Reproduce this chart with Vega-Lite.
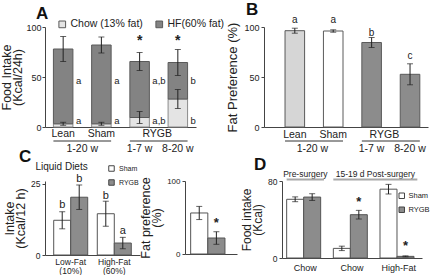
{
  "$schema": "https://vega.github.io/schema/vega-lite/v6.json",
  "background": "white",
  "padding": {"left": 0, "top": 0, "right": 0, "bottom": 0},
  "config": {
    "font": "Liberation Sans Narrow, Liberation Sans, Arial, sans-serif",
    "view": {"stroke": null},
    "axis": {"grid": false, "domainColor": "#444", "tickColor": "#444", "labelColor": "#222", "titleColor": "#222", "titleFontWeight": "normal", "tickSize": 3, "labelFont": "Liberation Sans Narrow, Liberation Sans, Arial, sans-serif", "titleFont": "Liberation Sans Narrow, Liberation Sans, Arial, sans-serif"},
    "axisY": {"labelPadding": 2, "titleLineHeight": 11},
    "title": {"anchor": "start", "frame": "group", "font": "Liberation Sans, Arial, sans-serif", "fontSize": 17, "fontWeight": "bold", "color": "#111", "offset": -4},
    "legend": {"labelFont": "Liberation Sans Narrow, Liberation Sans, Arial, sans-serif", "labelColor": "#222"},
    "text": {"color": "#222", "font": "Liberation Sans Narrow, Liberation Sans, Arial, sans-serif"}
  },
  "bounds": "flush",
  "spacing": 154,
  "resolve": {"scale": {"color": "independent"}, "legend": {"color": "independent"}},
  "vconcat": [
    {
      "hconcat": [
        {
          "width": 151, "height": 100,
          "title": {"text": "A", "dx": -9},
          "data": {"values": [
            {"grp": "Lean", "chow": 3.2, "chowErr": 1.5, "total": 78, "totalErr": 12.5, "letter": "a"},
            {"grp": "Sham", "chow": 3.2, "chowErr": 1.5, "total": 82, "totalErr": 8, "letter": "a"},
            {"grp": "RYGB1", "chow": 9.5, "chowErr": 6, "total": 65.5, "totalErr": 9, "letter": "a,b", "star": "*"},
            {"grp": "RYGB2", "chow": 28, "chowErr": 9.5, "total": 64.5, "totalErr": 13, "letter": "b", "star": "*"}
          ]},
          "encoding": {"x": {"field": "grp", "type": "nominal", "scale": {"domain": ["Lean", "Sham", "RYGB1", "RYGB2"], "paddingInner": 0.49, "paddingOuter": 0.22}, "axis": {"labels": false, "ticks": false, "title": null}}},
          "layer": [
            {"mark": {"type": "bar", "stroke": "#8a8a8a", "strokeWidth": 1},
             "encoding": {
               "y": {"field": "chow", "type": "quantitative", "scale": {"domain": [0, 100]}, "axis": {"values": [0, 25, 50, 75, 100], "title": ["Food Intake", "(Kcal/24h)"], "titleFontSize": 12.5, "labelFontSize": 9, "titlePadding": 1, "labelPadding": 1}},
               "color": {"datum": "Chow (13% fat)", "scale": {"domain": ["Chow (13% fat)", "HF(60% fat)"], "range": ["#e4e4e4", "#838383"]},
                 "legend": {"orient": "none", "legendX": 12, "legendY": -8, "direction": "horizontal", "title": null, "symbolType": "square", "symbolSize": 45, "symbolStrokeColor": "#555", "symbolStrokeWidth": 1, "labelFontSize": 10.5, "columnPadding": 10, "labelOffset": 3}}
             }},
            {"mark": {"type": "bar", "stroke": "#5a5a5a", "strokeWidth": 1},
             "encoding": {"y": {"field": "chow", "type": "quantitative", "title": ""}, "y2": {"field": "total"}, "color": {"datum": "HF(60% fat)"}}},
            {"mark": {"type": "errorbar", "ticks": true, "size": 6, "thickness": 1, "color": "#222"},
             "encoding": {"y": {"field": "chow", "type": "quantitative", "title": ""}, "yError": {"field": "chowErr"}}},
            {"mark": {"type": "errorbar", "ticks": true, "size": 6, "thickness": 1, "color": "#222"},
             "encoding": {"y": {"field": "total", "type": "quantitative", "title": ""}, "yError": {"field": "totalErr"}}},
            {"mark": {"type": "text", "align": "left", "dx": 3, "fontSize": 9.5, "baseline": "middle"},
             "encoding": {"x": {"field": "grp", "type": "nominal", "bandPosition": 1}, "y": {"datum": 46}, "text": {"field": "letter"}}},
            {"mark": {"type": "text", "align": "left", "dx": 3, "fontSize": 9.5, "baseline": "middle"},
             "encoding": {"x": {"field": "grp", "type": "nominal", "bandPosition": 1}, "y": {"datum": 6.5}, "text": {"field": "letter"}}},
            {"transform": [{"filter": "datum.star"}],
             "mark": {"type": "text", "fontSize": 14, "fontWeight": "bold", "baseline": "middle"},
             "encoding": {"y": {"datum": 86}, "text": {"field": "star"}}},
            {"data": {"values": [{"grp": "Lean", "t": "Lean"}, {"grp": "Sham", "t": "Sham"}]},
             "mark": {"type": "text", "fontSize": 10.5, "baseline": "middle"},
             "encoding": {"x": {"field": "grp", "type": "nominal"}, "y": {"datum": -7}, "text": {"field": "t"}}},
            {"data": {"values": [{"grp": "RYGB1", "t": "RYGB"}]},
             "mark": {"type": "text", "fontSize": 10.5, "baseline": "middle"},
             "encoding": {"x": {"field": "grp", "type": "nominal", "bandPosition": 1.4}, "y": {"datum": -7}, "text": {"field": "t"}}},
            {"data": {"values": [{"grp": "RYGB1", "t": "1-7 w"}, {"grp": "RYGB2", "t": "8-20 w"}]},
             "mark": {"type": "text", "fontSize": 10.5, "baseline": "middle"},
             "encoding": {"x": {"field": "grp", "type": "nominal"}, "y": {"datum": -21.5}, "text": {"field": "t"}}},
            {"data": {"values": [{"grp": "Lean", "t": "1-20 w"}]},
             "mark": {"type": "text", "fontSize": 10.5, "baseline": "middle"},
             "encoding": {"x": {"field": "grp", "type": "nominal", "bandPosition": 1.48}, "y": {"datum": -21.5}, "text": {"field": "t"}}},
            {"data": {"values": [{"a": "Lean", "b": "Sham"}, {"a": "RYGB1", "b": "RYGB2"}]},
             "mark": {"type": "rule", "color": "#333", "strokeWidth": 1},
             "encoding": {"x": {"field": "a", "type": "nominal", "bandPosition": 0}, "x2": {"field": "b", "bandPosition": 1}, "y": {"datum": -14}}}
          ]
        },
        {
          "width": 164, "height": 100,
          "title": {"text": "B", "dx": -18},
          "data": {"values": [
            {"grp": "Lean", "v": 96.3, "err": 2.5, "letter": "a", "ly": 107},
            {"grp": "Sham", "v": 96, "err": 1.2, "letter": "a", "ly": 107},
            {"grp": "RYGB1", "v": 84.5, "err": 5, "letter": "b", "ly": 94},
            {"grp": "RYGB2", "v": 52.7, "err": 10.5, "letter": "c", "ly": 71.5}
          ]},
          "encoding": {"x": {"field": "grp", "type": "nominal", "scale": {"domain": ["Lean", "Sham", "RYGB1", "RYGB2"], "paddingInner": 0.49, "paddingOuter": 0.38, "align": 0.72}, "axis": {"labels": false, "ticks": false, "title": null}}},
          "layer": [
            {"mark": {"type": "bar", "stroke": "#5a5a5a", "strokeWidth": 1},
             "encoding": {
               "y": {"field": "v", "type": "quantitative", "scale": {"domain": [0, 100]}, "axis": {"values": [0, 25, 50, 75, 100], "title": "Fat Preference (%)", "titleFontSize": 13, "labelFontSize": 9, "titlePadding": 4}},
               "color": {"field": "grp", "type": "nominal", "scale": {"domain": ["Lean", "Sham", "RYGB1", "RYGB2"], "range": ["#d6d6d6", "#ffffff", "#8c8c8c", "#8c8c8c"]}, "legend": null}
             }},
            {"mark": {"type": "errorbar", "ticks": true, "size": 6, "thickness": 1, "color": "#222"},
             "encoding": {"y": {"field": "v", "type": "quantitative", "title": ""}, "yError": {"field": "err"}}},
            {"mark": {"type": "text", "fontSize": 10, "baseline": "middle"},
             "encoding": {"y": {"field": "ly", "type": "quantitative", "title": ""}, "text": {"field": "letter"}}},
            {"data": {"values": [{"grp": "Lean", "t": "Lean"}, {"grp": "Sham", "t": "Sham"}]},
             "mark": {"type": "text", "fontSize": 10.5, "baseline": "middle"},
             "encoding": {"x": {"field": "grp", "type": "nominal"}, "y": {"datum": -8}, "text": {"field": "t"}}},
            {"data": {"values": [{"grp": "RYGB1", "t": "RYGB"}]},
             "mark": {"type": "text", "fontSize": 10.5, "baseline": "middle"},
             "encoding": {"x": {"field": "grp", "type": "nominal", "bandPosition": 1.15}, "y": {"datum": -8}, "text": {"field": "t"}}},
            {"data": {"values": [{"grp": "RYGB1", "t": "1-7 w"}, {"grp": "RYGB2", "t": "8-20 w"}]},
             "mark": {"type": "text", "fontSize": 10.5, "baseline": "middle"},
             "encoding": {"x": {"field": "grp", "type": "nominal"}, "y": {"datum": -21.5}, "text": {"field": "t"}}},
            {"data": {"values": [{"grp": "Lean", "t": "1-20 w"}]},
             "mark": {"type": "text", "fontSize": 10.5, "baseline": "middle"},
             "encoding": {"x": {"field": "grp", "type": "nominal", "bandPosition": 1.4}, "y": {"datum": -21.5}, "text": {"field": "t"}}},
            {"data": {"values": [{"a": "Lean", "b": "Sham"}, {"a": "RYGB1", "b": "RYGB2"}]},
             "mark": {"type": "rule", "color": "#333", "strokeWidth": 1},
             "encoding": {"x": {"field": "a", "type": "nominal", "bandPosition": 0}, "x2": {"field": "b", "bandPosition": 1}, "y": {"datum": -14}}}
          ]
        }
      ],
      "spacing": 68,
      "bounds": "flush",
      "resolve": {"scale": {"color": "independent"}, "legend": {"color": "independent"}}
    },
    {
      "hconcat": [
        {
          "width": 95, "height": 74,
          "title": {"text": "C", "dx": -26},
          "data": {"values": [
            {"diet": "Low-Fat", "grp": "Sham", "v": 12.2, "err": 3, "letter": "b", "ly": 17.4},
            {"diet": "Low-Fat", "grp": "RYGB", "v": 20.3, "err": 4.3, "letter": "b", "ly": 26.6},
            {"diet": "High-Fat", "grp": "Sham", "v": 14.5, "err": 4.4, "letter": "b", "ly": 20.8},
            {"diet": "High-Fat", "grp": "RYGB", "v": 4.2, "err": 2, "letter": "a", "ly": 8.6}
          ]},
          "encoding": {"x": {"field": "diet", "type": "nominal", "scale": {"domain": ["Low-Fat", "High-Fat"], "paddingInner": 0.22, "paddingOuter": 0.2}, "axis": {"title": null, "ticks": false, "labelAngle": 0, "labelFontSize": 8.5, "labelPadding": 2, "labelLineHeight": 9, "labelExpr": "datum.value == 'Low-Fat' ? ['Low-Fat', '(10%)'] : ['High-Fat', '(60%)']"}}},
          "layer": [
            {"mark": {"type": "bar", "stroke": "#555", "strokeWidth": 1},
             "encoding": {
               "xOffset": {"field": "grp", "type": "nominal", "scale": {"domain": ["Sham", "RYGB"], "paddingInner": 0, "paddingOuter": 0}},
               "y": {"field": "v", "type": "quantitative", "scale": {"domain": [0, 25]}, "axis": {"values": [0, 5, 10, 15, 20, 25], "title": ["Intake", "(Kcal/12 h)"], "titleFontSize": 12.5, "labelFontSize": 8.5, "titlePadding": 3}},
               "color": {"field": "grp", "type": "nominal", "scale": {"domain": ["Sham", "RYGB"], "range": ["#ffffff", "#8c8c8c"]},
                 "legend": {"orient": "none", "legendX": 63, "legendY": -16, "title": null, "symbolType": "square", "symbolSize": 30, "symbolStrokeColor": "#444", "symbolStrokeWidth": 1, "labelFontSize": 7, "rowPadding": 3, "labelOffset": 4}}
             }},
            {"mark": {"type": "errorbar", "ticks": true, "size": 6, "thickness": 1, "color": "#222"},
             "encoding": {"xOffset": {"field": "grp", "type": "nominal"}, "y": {"field": "v", "type": "quantitative", "title": ""}, "yError": {"field": "err"}}},
            {"mark": {"type": "text", "fontSize": 11, "baseline": "middle"},
             "encoding": {"xOffset": {"field": "grp", "type": "nominal"}, "y": {"field": "ly", "type": "quantitative", "title": ""}, "text": {"field": "letter"}}},
            {"data": {"values": [{"diet": "Low-Fat", "t": "Liquid Diets"}]},
             "mark": {"type": "text", "align": "right", "fontSize": 10, "baseline": "middle"},
             "encoding": {"x": {"field": "diet", "type": "nominal", "bandPosition": 1}, "y": {"datum": 31}, "text": {"field": "t"}}}
          ]
        },
        {
          "width": 52, "height": 73,
          "data": {"values": [
            {"grp": "Sham", "v": 56.2, "err": 9},
            {"grp": "RYGB", "v": 21.9, "err": 8.6, "star": "*"}
          ]},
          "encoding": {"x": {"field": "grp", "type": "nominal", "scale": {"domain": ["Sham", "RYGB"], "paddingInner": 0, "paddingOuter": 0.516, "align": 0.32}, "axis": {"labels": false, "ticks": false, "title": null}}},
          "layer": [
            {"mark": {"type": "bar", "stroke": "#555", "strokeWidth": 1},
             "encoding": {
               "y": {"field": "v", "type": "quantitative", "scale": {"domain": [0, 100]}, "axis": {"values": [0, 20, 40, 60, 80, 100], "title": ["Fat preference", "(%)"], "titleFontSize": 12.5, "labelFontSize": 8, "titlePadding": 3}},
               "color": {"field": "grp", "type": "nominal", "scale": {"domain": ["Sham", "RYGB"], "range": ["#ffffff", "#8c8c8c"]}, "legend": null}
             }},
            {"mark": {"type": "errorbar", "ticks": true, "size": 6, "thickness": 1, "color": "#222"},
             "encoding": {"y": {"field": "v", "type": "quantitative", "title": ""}, "yError": {"field": "err"}}},
            {"transform": [{"filter": "datum.star"}],
             "mark": {"type": "text", "fontSize": 13, "fontWeight": "bold", "baseline": "middle"},
             "encoding": {"y": {"datum": 42}, "text": {"field": "star"}}}
          ]
        },
        {
          "width": 140, "height": 77,
          "title": {"text": "D", "dx": -28},
          "data": {"values": [
            {"cond": "Chow pre", "grp": "Sham", "v": 61, "err": 2.5},
            {"cond": "Chow pre", "grp": "RYGB", "v": 63.3, "err": 3.5},
            {"cond": "Chow post", "grp": "Sham", "v": 10, "err": 2.3},
            {"cond": "Chow post", "grp": "RYGB", "v": 45, "err": 4.5, "star": "*", "sy": 58},
            {"cond": "High-Fat", "grp": "Sham", "v": 71.5, "err": 5},
            {"cond": "High-Fat", "grp": "RYGB", "v": 1.7, "err": 0.5, "star": "*", "sy": 12}
          ]},
          "encoding": {"x": {"field": "cond", "type": "nominal", "scale": {"domain": ["Chow pre", "Chow post", "High-Fat"], "paddingInner": 0.2, "paddingOuter": 0.1}, "axis": {"title": null, "ticks": false, "labelAngle": 0, "labelFontSize": 9, "labelPadding": 5, "labelExpr": "datum.value == 'High-Fat' ? 'High-Fat' : 'Chow'"}}},
          "layer": [
            {"mark": {"type": "bar", "stroke": "#555", "strokeWidth": 1},
             "encoding": {
               "xOffset": {"field": "grp", "type": "nominal", "scale": {"domain": ["Sham", "RYGB"], "paddingInner": 0, "paddingOuter": 0}},
               "y": {"field": "v", "type": "quantitative", "scale": {"domain": [0, 80]}, "axis": {"values": [0, 20, 40, 60, 80], "title": ["Food intake", "(Kcal)"], "titleFontSize": 12, "labelFontSize": 8.5, "titlePadding": 3}},
               "color": {"field": "grp", "type": "nominal", "scale": {"domain": ["Sham", "RYGB"], "range": ["#ffffff", "#8c8c8c"]},
                 "legend": {"orient": "none", "legendX": 116, "legendY": 11, "title": null, "symbolType": "square", "symbolSize": 30, "symbolStrokeColor": "#444", "symbolStrokeWidth": 1, "labelFontSize": 7.5, "rowPadding": 4, "labelOffset": 3}}
             }},
            {"mark": {"type": "errorbar", "ticks": true, "size": 6, "thickness": 1, "color": "#222"},
             "encoding": {"xOffset": {"field": "grp", "type": "nominal"}, "y": {"field": "v", "type": "quantitative", "title": ""}, "yError": {"field": "err"}}},
            {"transform": [{"filter": "datum.star"}],
             "mark": {"type": "text", "fontSize": 13, "fontWeight": "bold", "baseline": "middle"},
             "encoding": {"xOffset": {"field": "grp", "type": "nominal"}, "y": {"field": "sy", "type": "quantitative", "title": ""}, "text": {"field": "star"}}},
            {"data": {"values": [{"cond": "Chow pre", "t": "Pre-surgery"}]},
             "mark": {"type": "text", "fontSize": 8.5, "baseline": "middle"},
             "encoding": {"x": {"field": "cond", "type": "nominal"}, "y": {"datum": 87.5}, "text": {"field": "t"}}},
            {"data": {"values": [{"cond": "Chow post", "t": "15-19 d Post-surgery"}]},
             "mark": {"type": "text", "fontSize": 8.5, "baseline": "middle"},
             "encoding": {"x": {"field": "cond", "type": "nominal", "bandPosition": 1.126}, "y": {"datum": 87.5}, "text": {"field": "t"}}},
            {"data": {"values": [{"a": "Chow pre", "b": "Chow pre"}, {"a": "Chow post", "b": "High-Fat"}]},
             "mark": {"type": "rule", "color": "#a8a8a8", "strokeWidth": 2},
             "encoding": {"x": {"field": "a", "type": "nominal", "bandPosition": 0}, "x2": {"field": "b", "bandPosition": 1}, "y": {"datum": 81.5}}}
          ]
        }
      ],
      "spacing": 45,
      "bounds": "flush",
      "resolve": {"scale": {"color": "independent"}, "legend": {"color": "independent"}}
    }
  ]
}
